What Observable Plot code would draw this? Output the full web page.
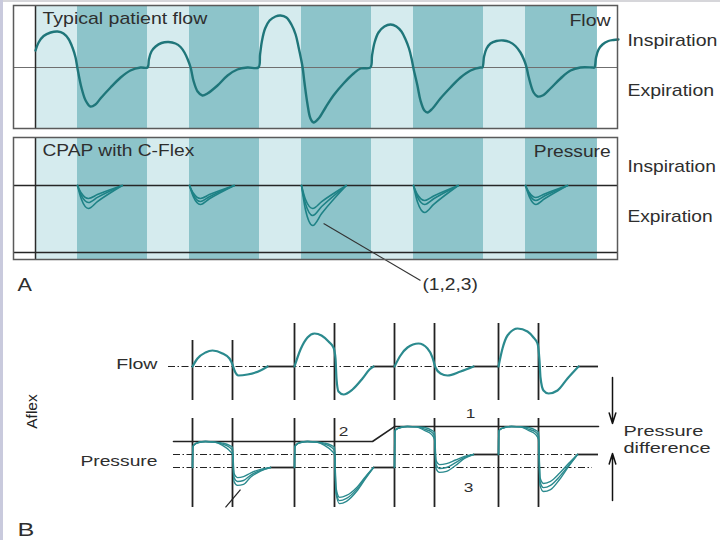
<!DOCTYPE html>
<html><head><meta charset="utf-8">
<script src="https://cdn.jsdelivr.net/npm/d3@7"></script>
<script src="https://cdn.jsdelivr.net/npm/@observablehq/plot@0.6"></script>
<style>
body{margin:0;background:#fff}
#chart{position:relative;width:720px;height:540px;overflow:hidden;background:#fff}
#chart svg{position:absolute;left:0;top:0}
.edgeTop{position:absolute;left:0;top:0;width:720px;height:2px;background:#d6d6da}
.edgeLeft{position:absolute;left:0;top:0;width:3px;height:540px;background:#c9cadd}
</style></head><body>
<div id="chart"><div class="edgeTop"></div><div class="edgeLeft"></div></div>
<script>
// ---------------- Panel A data (time in s, breath period 4 s) ----------------
const phaseStart = [0, 1.5, 4, 5.5, 8, 9.5, 12, 13.5, 16, 17.5];
const phaseEnd   = [1.5, 4, 5.5, 8, 9.5, 12, 13.5, 16, 17.5, 20.07];
const phaseKind  = ["Inspiration","Expiration","Inspiration","Expiration","Inspiration","Expiration","Inspiration","Expiration","Inspiration","Expiration"];

// typical patient flow (t, flow)
const flowA = [
 [0,0.34],[0.11,0.5],[0.29,0.63],[0.54,0.7],[0.79,0.72],[1.0,0.68],[1.18,0.57],[1.32,0.4],[1.43,0.2],[1.5,-0.02],[1.64,-0.4],[1.79,-0.66],[1.96,-0.78],[2.14,-0.74],[2.32,-0.62],[2.68,-0.4],[3.04,-0.2],[3.39,-0.06],[3.75,0],[4.0,0],
 [4.05,0.16],[4.14,0.32],[4.29,0.42],[4.5,0.49],[4.75,0.51],[5.0,0.48],[5.18,0.41],[5.32,0.3],[5.43,0.17],[5.54,0],[5.64,-0.26],[5.79,-0.48],[5.96,-0.56],[6.14,-0.52],[6.5,-0.36],[6.86,-0.16],[7.21,-0.04],[7.57,0],[7.96,0],
 [8.02,0.26],[8.09,0.54],[8.2,0.78],[8.36,0.94],[8.57,1.02],[8.75,1.04],[8.96,1.0],[9.14,0.86],[9.29,0.66],[9.39,0.42],[9.48,0.18],[9.54,0],[9.61,-0.32],[9.71,-0.72],[9.82,-1.02],[9.93,-1.1],[10.11,-1.02],[10.36,-0.8],[10.64,-0.56],[11.0,-0.32],[11.36,-0.12],[11.61,-0.02],[11.96,0],
 [12.02,0.24],[12.11,0.5],[12.25,0.7],[12.46,0.82],[12.68,0.86],[12.89,0.82],[13.07,0.72],[13.21,0.57],[13.34,0.38],[13.43,0.18],[13.5,-0.02],[13.64,-0.36],[13.75,-0.66],[13.89,-0.86],[14.0,-0.9],[14.18,-0.82],[14.46,-0.62],[14.82,-0.4],[15.18,-0.2],[15.54,-0.06],[15.89,0],
 [15.96,0],[16.02,0.22],[16.11,0.38],[16.25,0.48],[16.46,0.53],[16.71,0.54],[16.93,0.51],[17.14,0.43],[17.32,0.3],[17.45,0.15],[17.54,0],[17.61,-0.18],[17.79,-0.5],[17.93,-0.58],[18.11,-0.56],[18.39,-0.42],[18.75,-0.22],[19.11,-0.06],[19.46,0],[19.89,0],
 [19.96,0],[20.02,0.2],[20.11,0.36],[20.25,0.46],[20.46,0.53],[20.64,0.55],[20.82,0.56]
];

// CPAP with C-Flex pressure dips, settings 1,2,3 (cm H2O)
const dipTimesA = [
 [1.5, 1.64, 1.89, 2.21, 3.1],
 [5.5, 5.64, 5.89, 6.21, 7.1],
 [9.5, 9.64, 9.9, 10.22, 11.1],
 [13.5, 13.64, 13.9, 14.22, 15.1],
 [17.5, 17.64, 17.87, 18.18, 19.0]
];
const dipPressA = [
 [[10,9.22,8.7,9.09,10],[10,8.98,8.3,8.81,10],[10,8.62,7.7,8.39,10]],
 [[10,9.22,8.7,9.09,10],[10,9.04,8.4,8.88,10],[10,8.86,8.1,8.67,10]],
 [[10,8.62,7.7,8.39,10],[10,8.2,7.0,7.9,10],[10,7.6,6.0,7.2,10]],
 [[10,9.1,8.5,8.95,10],[10,8.86,8.1,8.67,10],[10,8.38,7.3,8.11,10]],
 [[10,9.28,8.8,9.16,10],[10,9.1,8.5,8.95,10],[10,8.86,8.1,8.67,10]]
];
const cpapLevel = [10];
const panelFloor = [3.3];
const pointerA = [{t1: 10.29, p1: 6.2, t2: 13.75, p2: 0.5}];

// ---------------- Panel B data (A-Flex) ----------------
const flowBCycles = [
 [[1.0,0],[1.25,0.4],[1.65,0.7],[2.0,0.8],[2.5,0.65],[2.85,0.4],[3.0,0.1],[3.1,-0.2],[3.3,-0.45],[3.75,-0.4],[4.4,-0.2],[4.75,0]],
 [[6.1,0],[6.4,0.85],[6.75,1.45],[7.1,1.65],[7.45,1.55],[7.8,1.25],[8.05,0.95],[8.15,0.4],[8.2,-0.6],[8.3,-1.25],[8.55,-1.4],[9.0,-1.15],[9.5,-0.6],[9.85,-0.15],[10.05,0]],
 [[11.1,0],[11.4,0.55],[11.75,0.95],[12.3,1.15],[12.75,0.9],[13.0,0.45],[13.15,-0.05],[13.4,-0.35],[13.75,-0.45],[14.4,-0.25],[15.05,0]],
 [[16.3,0],[16.5,0.9],[16.75,1.55],[17.25,1.9],[17.75,1.75],[18.05,1.45],[18.25,1.15],[18.35,0.3],[18.4,-0.55],[18.55,-1.2],[18.8,-1.35],[19.25,-1.2],[19.75,-0.6],[20.3,0]]
];
const flowBFlats = [[4.75,6.1],[10.05,11.1],[15.05,16.3],[20.3,21.3]];
const cycleEdgesB = [1.0, 3.0, 6.1, 8.1, 11.1, 13.1, 16.3, 18.3];
const flowEdgeTop = [1.3, 1.3, 2.15, 2.15, 2.15, 2.15, 2.15, 2.15];
const flowEdgeBottom = -1.7;
const pressEdgeTop = 7.54, pressEdgeBottom = -6.15;

const pressTimesB = [
 [1.0,1.015,1.1,1.3,1.65,2.1,2.5,2.85,3.0,3.075,3.25,3.55,3.9,4.4,4.9],
 [6.1,6.115,6.2,6.4,6.75,7.2,7.6,7.95,8.1,8.175,8.35,8.7,9.2,9.65,10.05],
 [11.1,11.115,11.2,11.4,11.75,12.2,12.6,12.95,13.1,13.175,13.35,13.7,14.15,14.6,15.05],
 [16.3,16.315,16.4,16.6,16.95,17.4,17.8,18.15,18.3,18.375,18.55,18.9,19.35,19.8,20.25]
];
const pressValsB = [
 [[0,3.1,3.55,3.85,4.0,3.9,3.75,3.4,3.1,-0.9,-1.55,-1.4,-0.85,-0.3,0],
  [0,3.1,3.55,3.85,4.0,3.9,3.6,3.1,2.6,-1.55,-2.15,-2.0,-1.2,-0.45,0],
  [0,3.1,3.55,3.85,4.0,3.9,3.4,2.6,2.0,-2.15,-2.75,-2.6,-1.5,-0.55,0]],
 [[0,3.1,3.55,3.85,4.0,3.9,3.75,3.4,3.1,-3.1,-4.6,-4.3,-3.1,-1.4,0],
  [0,3.1,3.55,3.85,4.0,3.9,3.6,3.1,2.6,-3.55,-5.1,-4.75,-3.4,-1.55,0],
  [0,3.1,3.55,3.85,4.0,3.9,3.4,2.6,2.0,-4.0,-5.55,-5.2,-3.7,-1.7,0]],
 [[0,5.55,5.9,6.15,6.3,6.25,6.15,5.75,5.4,1.1,0.45,0.6,1.15,1.7,2.0],
  [0,5.55,5.9,6.15,6.3,6.25,5.9,5.45,4.9,0.45,-0.15,0,0.75,1.55,2.0],
  [0,5.55,5.9,6.15,6.3,6.25,5.7,5.1,4.3,-0.15,-0.75,-0.6,0.3,1.4,2.0]],
 [[2.0,5.55,5.9,6.15,6.3,6.25,6.15,5.75,5.4,-1.55,-2.45,-2.15,-0.9,0.6,2.0],
  [2.0,5.55,5.9,6.15,6.3,6.25,5.9,5.45,4.9,-2.15,-3.1,-2.75,-1.4,0.3,2.0],
  [2.0,5.55,5.9,6.15,6.3,6.25,5.7,5.1,4.3,-2.75,-3.7,-3.4,-1.85,0.15,2.0]]
];
const pressBFlats = [[4.9,6.1,0],[10.05,11.1,0],[15.05,16.3,2],[20.25,21.3,2]];
const ipapStepT = [0.05, 10.0, 11.1, 21.3];
const ipapStepP = [4, 4, 6.3, 6.3];
const dashLevelsB = [{p: 2, t1: 0.05, t2: 21.0}, {p: 0, t1: 0.05, t2: 21.0}];
const flowAxisB = [{v: 0, t1: -0.2, t2: 21.3}];
const diffArrows = [{t: 22.0, from: 13.85, to: 6.77}, {t: 22.0, from: -5.08, to: 2.15}];
const slashB = [{t1: 2.65, p1: -6.15, t2: 3.4, p2: -3.4}];

// ---------------- rendering ----------------
const FONT = "Liberation Sans, Arial, Helvetica, sans-serif";
const LIGHT = "#d5ebee", DARK = "#8dc4ca", INK = "#2e2e2e", TEAL = "#1f767a";
const chart = document.getElementById("chart");

function stretchText(svg, sx) {
  for (const t of svg.querySelectorAll("text")) {
    const tr = t.getAttribute("transform");
    if (!tr || tr.includes("rotate")) continue;
    t.setAttribute("transform", tr + ` scale(${sx},1)`);
  }
}
function add(svg, sx) { stretchText(svg, sx); chart.appendChild(svg); }

const bands = phaseStart.map((s, i) => ({start: s, end: phaseEnd[i], kind: phaseKind[i]}));
const common = {width: 720, height: 540, style: {background: "transparent", overflow: "visible"}};
const xA = {domain: [-0.786, 20.786], axis: null};
const colorA = {domain: ["Inspiration", "Expiration"], range: [LIGHT, DARK]};

// A1 flow
add(Plot.plot({
  ...common,
  marginLeft: 13, marginRight: 103, marginTop: 5, marginBottom: 412,
  x: xA, y: {domain: [-1.22, 1.24], axis: null}, color: colorA,
  marks: [
    Plot.barX(bands, {x1: "start", x2: "end", fill: "kind"}),
    Plot.ruleY([0], {stroke: "#6f6f6f", strokeWidth: 1}),
    Plot.ruleX([0], {stroke: "#2a2a2a", strokeWidth: 1.5}),
    Plot.line(flowA, {x: d => d[0], y: d => d[1], curve: "catmull-rom", stroke: TEAL, strokeWidth: 2.4}),
    Plot.frame({stroke: "#5a5a5a", strokeWidth: 1.5}),
    Plot.text([{s: "Typical patient flow", t: 0.25, v: 0.98}], {x: "t", y: "v", text: "s", textAnchor: "start", fontSize: 16, fontFamily: FONT, fill: INK}),
    Plot.text([{s: "Flow", t: 20.54, v: 0.94}], {x: "t", y: "v", text: "s", textAnchor: "end", fontSize: 16, fontFamily: FONT, fill: INK}),
    Plot.text([{s: "Inspiration", t: 21.14, v: 0.54}, {s: "Expiration", t: 21.14, v: -0.47}], {x: "t", y: "v", text: "s", textAnchor: "start", fontSize: 16, fontFamily: FONT, fill: INK})
  ]
}), 1.22);

// A2 pressure
const dipsA = dipTimesA.flatMap((ts, c) => dipPressA[c].flatMap((ps, l) => ts.map((t, k) => ({id: c * 3 + l, t, p: ps[k]}))));
add(Plot.plot({
  ...common,
  marginLeft: 13, marginRight: 103, marginTop: 137, marginBottom: 281,
  x: xA, y: {domain: [2.6, 14.8], axis: null}, color: colorA,
  marks: [
    Plot.barX(bands, {x1: "start", x2: "end", fill: "kind"}),
    Plot.ruleY(cpapLevel, {stroke: "#262626", strokeWidth: 1.5}),
    Plot.ruleY(panelFloor, {stroke: "#262626", strokeWidth: 1.5}),
    Plot.ruleX([0], {stroke: "#2a2a2a", strokeWidth: 1.5}),
    Plot.line(dipsA, {x: "t", y: "p", z: "id", curve: "monotone-x", stroke: "#1e8286", strokeWidth: 1.6}),
    Plot.link(pointerA, {x1: "t1", y1: "p1", x2: "t2", y2: "p2", stroke: "#333", strokeWidth: 1.1}),
    Plot.frame({stroke: "#5a5a5a", strokeWidth: 1.5}),
    Plot.text([{s: "CPAP with C-Flex", t: 0.25, p: 13.5}], {x: "t", y: "p", text: "s", textAnchor: "start", fontSize: 16, fontFamily: FONT, fill: INK}),
    Plot.text([{s: "Pressure", t: 20.54, p: 13.35}], {x: "t", y: "p", text: "s", textAnchor: "end", fontSize: 16, fontFamily: FONT, fill: INK}),
    Plot.text([{s: "Inspiration", t: 21.14, p: 11.85}, {s: "Expiration", t: 21.14, p: 6.85}, {s: "(1,2,3)", t: 13.82, p: 0.1}], {x: "t", y: "p", text: "s", textAnchor: "start", fontSize: 16, fontFamily: FONT, fill: INK}),
    Plot.text([{s: "A", t: -0.64, p: 0.05}], {x: "t", y: "p", text: "s", textAnchor: "start", fontSize: 18, fontFamily: FONT, fill: INK})
  ]
}), 1.2);

// B flow
const xB = {domain: [0, 21.3], range: [172, 598], axis: null};
const flowB = flowBCycles.flatMap((pts, c) => pts.map(([t, v]) => ({c, t, v})));
const flowEdges = cycleEdgesB.map((t, i) => ({t, lo: flowEdgeBottom, hi: flowEdgeTop[i]}));
add(Plot.plot({
  ...common,
  x: xB, y: {domain: [0, 1], range: [366, 346], axis: null},
  marks: [
    Plot.ruleY(flowAxisB, {y: "v", x1: "t1", x2: "t2", stroke: "#222", strokeWidth: 1.2, strokeDasharray: "7,2.5,1.5,2.5"}),
    Plot.ruleX(flowEdges, {x: "t", y1: "lo", y2: "hi", stroke: "#222", strokeWidth: 1.8}),
    Plot.ruleY(flowBFlats, {y: () => 0, x1: d => d[0], x2: d => d[1], stroke: "#222", strokeWidth: 1.8}),
    Plot.line(flowB, {x: "t", y: "v", z: "c", curve: "monotone-x", stroke: "#2b8a8e", strokeWidth: 2.2}),
    Plot.text([{s: "Flow", t: -0.75, v: 0.11}], {x: "t", y: "v", text: "s", textAnchor: "end", fontSize: 14.5, fontFamily: FONT, fill: INK}),
    Plot.text([{s: "Aflex", t: -7, v: -2.25}], {x: "t", y: "v", text: "s", rotate: -90, fontSize: 15.5, fontFamily: FONT, fill: "#222"})
  ]
}), 1.35);

// B pressure
const pressB = pressTimesB.flatMap((ts, c) => pressValsB[c].flatMap((ps, l) => ts.map((t, k) => ({id: c * 3 + l, t, p: ps[k]}))));
const pressEdges = cycleEdgesB.map(t => ({t, lo: pressEdgeBottom, hi: pressEdgeTop}));
const ipapStep = ipapStepT.map((t, i) => ({t, p: ipapStepP[i]}));
add(Plot.plot({
  ...common,
  x: xB, y: {domain: [0, 4], range: [467, 441], axis: null},
  marks: [
    Plot.ruleY(dashLevelsB, {y: "p", x1: "t1", x2: "t2", stroke: "#222", strokeWidth: 1.2, strokeDasharray: "7,2.5,1.5,2.5"}),
    Plot.line(ipapStep, {x: "t", y: "p", stroke: "#222", strokeWidth: 1.6}),
    Plot.ruleX(pressEdges, {x: "t", y1: "lo", y2: "hi", stroke: "#222", strokeWidth: 1.8}),
    Plot.ruleY(pressBFlats, {y: d => d[2], x1: d => d[0], x2: d => d[1], stroke: "#222", strokeWidth: 1.8}),
    Plot.line(pressB, {x: "t", y: "p", z: "id", curve: "monotone-x", stroke: "#2b8a8e", strokeWidth: 1.4}),
    Plot.link(slashB, {x1: "t1", y1: "p1", x2: "t2", y2: "p2", stroke: "#222", strokeWidth: 1.2}),
    Plot.arrow(diffArrows, {x1: "t", y1: "from", x2: "t", y2: "to", stroke: "#111", strokeWidth: 1.5, headLength: 11, headAngle: 35}),
    Plot.text([{s: "Pressure", t: -0.75, p: 0.9}], {x: "t", y: "p", text: "s", textAnchor: "end", fontSize: 14.5, fontFamily: FONT, fill: INK}),
    Plot.text([{s: "1", t: 14.9, p: 8.3}, {s: "2", t: 8.55, p: 5.5}, {s: "3", t: 14.8, p: -3.1}], {x: "t", y: "p", text: "s", fontSize: 13, fontFamily: FONT, fill: INK}),
    Plot.text([{s: "Pressure", t: 22.55, p: 5.6}, {s: "difference", t: 22.55, p: 2.95}], {x: "t", y: "p", text: "s", textAnchor: "start", fontSize: 15, fontFamily: FONT, fill: INK}),
    Plot.text([{s: "B", t: -7.75, p: -9.55}], {x: "t", y: "p", text: "s", textAnchor: "start", fontSize: 19, fontFamily: FONT, fill: INK})
  ]
}), 1.33);
</script>
</body></html>
